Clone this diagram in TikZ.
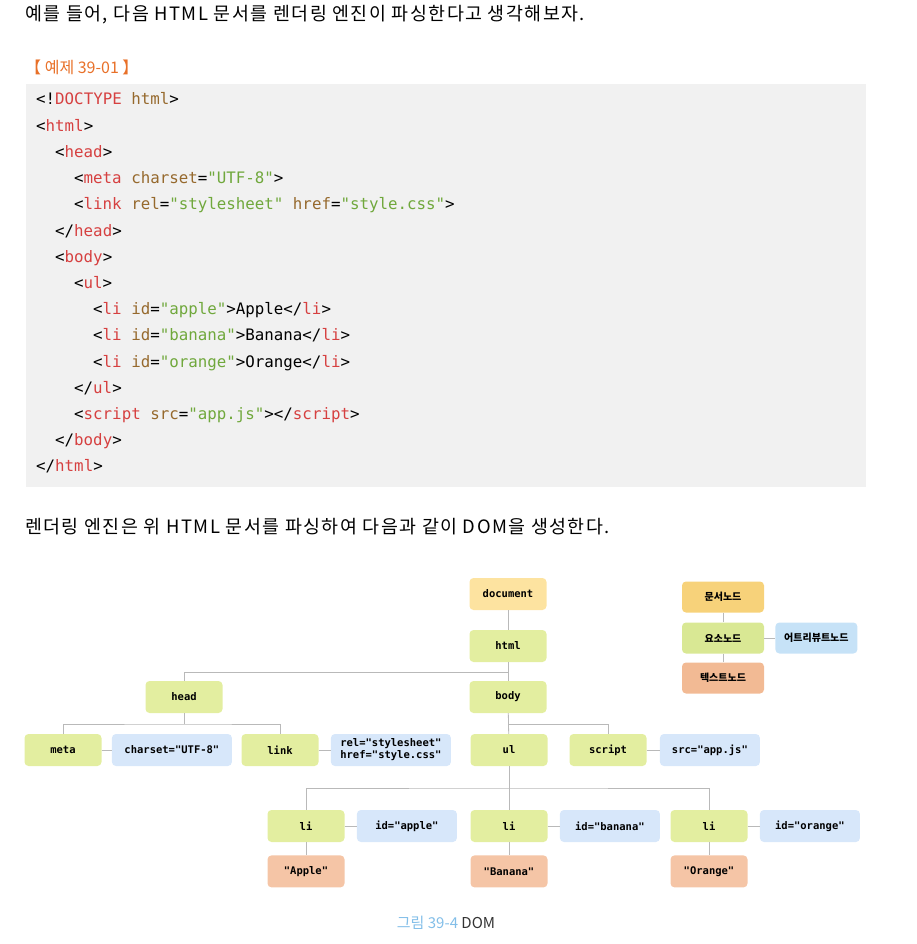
\documentclass[tikz,border=0pt]{standalone}
\usepackage{fontspec}
\usepackage{xcolor}
\usepackage{tikz}
\usetikzlibrary{positioning,calc}
\setmonofont{DejaVu Sans Mono}
\newfontfamily\kr{Noto Sans CJK KR}
\newfontfamily\krwide[LetterSpace=8]{Noto Sans CJK KR}
\definecolor{tagred}{RGB}{214,64,64}
\definecolor{attrbrown}{RGB}{150,105,45}
\definecolor{valgreen}{RGB}{112,168,60}
\definecolor{codebg}{RGB}{241,241,241}
\definecolor{exorange}{RGB}{232,112,40}
\definecolor{elemgreen}{RGB}{227,238,160}
\definecolor{attrblue}{RGB}{215,231,250}
\definecolor{textsalmon}{RGB}{245,197,166}
\definecolor{docyellow}{RGB}{253,227,160}
\definecolor{legdoc}{RGB}{247,210,122}
\definecolor{legelem}{RGB}{217,232,148}
\definecolor{legattr}{RGB}{198,226,247}
\definecolor{legtext}{RGB}{242,186,148}
\definecolor{capblue}{RGB}{130,190,232}
\newcommand{\ctag}[1]{\textcolor{tagred}{#1}}
\newcommand{\cattr}[1]{\textcolor{attrbrown}{#1}}
\newcommand{\cval}[1]{\textcolor{valgreen}{#1}}
\tikzset{
  prose/.style={anchor=west, inner sep=0pt, font=\krwide\fontsize{18.4}{21}\selectfont},
  codeline/.style={anchor=west, inner sep=0pt, text height=11pt, text depth=3pt,
                   font=\ttfamily\fontsize{15.8}{18}\selectfont},
  elem/.style={fill=elemgreen, rounded corners=4pt, minimum width=77pt, minimum height=32pt,
               inner sep=2pt, align=center, font=\ttfamily\bfseries\fontsize{10.5}{12}\selectfont},
  attr/.style={elem, fill=attrblue, minimum width=100pt},
  txtnode/.style={elem, fill=textsalmon},
  docnode/.style={elem, fill=docyellow},
  legnode/.style={rounded corners=4pt, minimum width=82pt, minimum height=31pt,
                  font=\kr\bfseries\fontsize{10}{12}\selectfont},
  conn/.style={draw=gray!55, line width=0.8pt}
}
\begin{document}
\begin{tikzpicture}[x=1pt,y=-1pt]
  \useasboundingbox (0,0) rectangle (916,944);

  \node[prose] (intro) at (25,15) {예를 들어, 다음 HTML 문서를 렌더링 엔진이 파싱한다고 생각해보자.};
  \node[anchor=west, inner sep=0pt, text=exorange, font=\kr\fontsize{16}{18}\selectfont]
       (exlabel) at (25,67) {【 예제 39-01 】};

  % code listing
  \fill[codebg] (26,84) rectangle (866,487);
  \node[codeline] (c1)  at (36,101)    {<!\ctag{DOCTYPE} \cattr{html}>};
  \node[codeline] (c2)  at (36,127.2)  {<\ctag{html}>};
  \node[codeline] (c3)  at (55,153.4)  {<\ctag{head}>};
  \node[codeline] (c4)  at (74,179.6)  {<\ctag{meta} \cattr{charset}=\cval{"UTF-8"}>};
  \node[codeline] (c5)  at (74,205.8)  {<\ctag{link} \cattr{rel}=\cval{"stylesheet"} \cattr{href}=\cval{"style.css"}>};
  \node[codeline] (c6)  at (55,232)    {</\ctag{head}>};
  \node[codeline] (c7)  at (55,258.2)  {<\ctag{body}>};
  \node[codeline] (c8)  at (74,284.4)  {<\ctag{ul}>};
  \node[codeline] (c9)  at (93,310.6)  {<\ctag{li} \cattr{id}=\cval{"apple"}>Apple</\ctag{li}>};
  \node[codeline] (c10) at (93,336.8)  {<\ctag{li} \cattr{id}=\cval{"banana"}>Banana</\ctag{li}>};
  \node[codeline] (c11) at (93,363)    {<\ctag{li} \cattr{id}=\cval{"orange"}>Orange</\ctag{li}>};
  \node[codeline] (c12) at (74,389.2)  {</\ctag{ul}>};
  \node[codeline] (c13) at (74,415.4)  {<\ctag{script} \cattr{src}=\cval{"app.js"}></\ctag{script}>};
  \node[codeline] (c14) at (55,441.6)  {</\ctag{body}>};
  \node[codeline] (c15) at (36,467.8)  {</\ctag{html}>};

  \node[prose] (outro) at (25,527) {렌더링 엔진은 위 HTML 문서를 파싱하여 다음과 같이 DOM을 생성한다.};

  % DOM tree
  \node[docnode] (document) at (508,594) {document};
  \node[elem] (html) at (508,646) {html};
  \node[elem] (body) at (508,697) {body};
  \node[elem] (head) at (184,697) {head};
  \node[elem] (meta) at (63,750) {meta};
  \node[attr, minimum width=120pt, right=10pt of meta] (charset) {charset="UTF-8"};
  \node[elem] (link) at (280,750) {link};
  \node[attr, minimum width=120pt, right=12pt of link] (relhref) {rel="stylesheet"\\href="style.css"};
  \node[elem] (ul) at (509,750) {ul};
  \node[elem] (script) at (608,750) {script};
  \node[attr, right=13pt of script] (src) {src="app.js"};
  \node[elem] (li1) at (306,826) {li};
  \node[attr, right=12pt of li1] (idapple) {id="apple"};
  \node[elem] (li2) at (509,826) {li};
  \node[attr, right=12pt of li2] (idbanana) {id="banana"};
  \node[elem] (li3) at (709,826) {li};
  \node[attr, right=12pt of li3] (idorange) {id="orange"};
  \node[txtnode, below=13pt of li1] (apple) {"Apple"};
  \node[txtnode, below=13pt of li2] (banana) {"Banana"};
  \node[txtnode, below=13pt of li3] (orange) {"Orange"};

  \coordinate (htmlj) at (508,672);
  \coordinate (headj) at (184,724);
  \coordinate (bodyj) at (508,724);
  \coordinate (ulj) at (509,788);

  \draw[conn] (document) -- (html);
  \draw[conn] (html) -- (body);
  \draw[conn] (head.north) |- (htmlj);
  \draw[conn] (head.south) -- (headj);
  \draw[conn] (meta.north) |- (headj) -| (link.north);
  \draw[conn] (meta) -- (charset);
  \draw[conn] (link) -- (relhref);
  \draw[conn] (body) -- (ul);
  \draw[conn] (bodyj) -| (script.north);
  \draw[conn] (script) -- (src);
  \draw[conn] (ul) -- (li2);
  \draw[conn] (li1.north) |- (ulj) -| (li3.north);
  \draw[conn] (li1) -- (idapple);
  \draw[conn] (li2) -- (idbanana);
  \draw[conn] (li3) -- (idorange);
  \draw[conn] (li1) -- (apple);
  \draw[conn] (li2) -- (banana);
  \draw[conn] (li3) -- (orange);

  % legend
  \node[legnode, fill=legdoc] (ldoc) at (723,597) {문서노드};
  \node[legnode, fill=legelem] (lelem) at (723,638) {요소노드};
  \node[legnode, fill=legattr, right=11pt of lelem] (lattr) {어트리뷰트노드};
  \node[legnode, fill=legtext] (ltext) at (723,678) {텍스트노드};
  \draw[conn] (ldoc) -- (lelem);
  \draw[conn] (lelem) -- (lattr);
  \draw[conn] (lelem) -- (ltext);

  \node[font=\kr\fontsize{15}{17}\selectfont, inner sep=0pt] (caption) at (446,923)
       {\textcolor{capblue}{그림 39-4} \textcolor{black!80}{DOM}};
\end{tikzpicture}
\end{document}
